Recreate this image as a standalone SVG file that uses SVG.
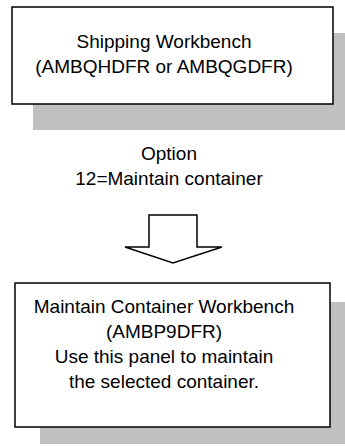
<svg xmlns="http://www.w3.org/2000/svg" width="345" height="447" viewBox="0 0 345 447">
<style>
.shadow{fill:#c0c0c0;stroke:none}
.box{fill:#ffffff;stroke:#000000;stroke-width:1.5}
.t{font-family:"Liberation Sans",Arial,sans-serif;font-size:19px;fill:#000000;text-anchor:middle}
.arrow{fill:#ffffff;stroke:#000000;stroke-width:1.5;stroke-linejoin:miter}
</style>
<rect width="345" height="447" fill="#ffffff"/>
<g id="node-shipping">
<rect class="shadow" x="33" y="33" width="312" height="97"/>
<rect class="box" x="12" y="7" width="321" height="97"/>
<text class="t" x="164" y="48">Shipping Workbench</text>
<text class="t" x="164" y="73">(AMBQHDFR or AMBQGDFR)</text>
</g>
<g id="connectors">
<text class="t" x="169" y="160">Option</text>
<text class="t" x="169" y="185">12=Maintain container</text>
<polygon class="arrow" points="149,215 197,215 197,247 222,247 173,263 125,247 149,247"/>
</g>
<g id="node-maintain">
<rect class="shadow" x="40" y="302" width="305" height="142"/>
<rect class="box" x="15" y="283" width="315" height="144"/>
<text class="t" x="164" y="313">Maintain Container Workbench</text>
<text class="t" x="164" y="338">(AMBP9DFR)</text>
<text class="t" x="164" y="363">Use this panel to maintain</text>
<text class="t" x="164" y="388">the selected container.</text>
</g>
</svg>
